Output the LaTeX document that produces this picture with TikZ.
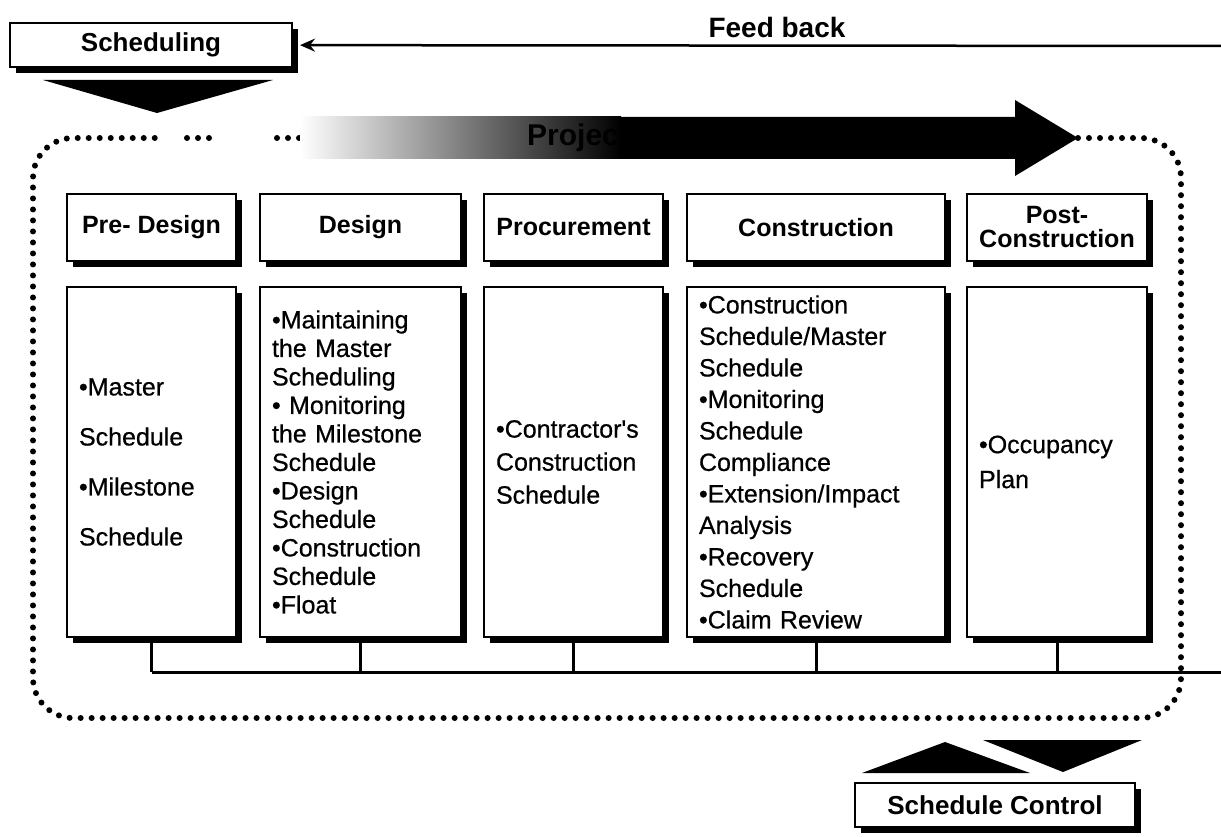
\documentclass[tikz,border=0pt]{standalone}
\usepackage{fontspec}
\setmainfont{Liberation Sans}
\newfontfamily\listfont{Liberation Sans}[FakeBold=0.6]
\usepackage{tikz}
\usetikzlibrary{positioning}
\usetikzlibrary{arrows.meta}
\usetikzlibrary{shadows}

\begin{document}
\begin{tikzpicture}[x=1pt, y=-1pt,
  shadowed/.style = {drop shadow={shadow xshift=6pt, shadow yshift=-6pt,
    fill=black, opacity=1}},
  phase/.style = {shape=rectangle, draw, line width=2pt, fill=white,
    minimum height=67pt, align=center, inner sep=2pt, shadowed,
    font=\bfseries\fontsize{25pt}{24pt}\selectfont},
  duties/.style = {shape=rectangle, draw, line width=2pt, fill=white,
    minimum height=350pt, align=left, inner xsep=12pt, inner ysep=0pt,
    shadowed},
  banner/.style = {shape=rectangle, draw, line width=2pt, fill=white,
    minimum height=44pt, shadowed,
    font=\bfseries\fontsize{26pt}{26pt}\selectfont},
  frame/.style = {line width=6pt, line cap=round,
    dash pattern=on 0pt off 11pt, rounded corners=40pt},
  bus/.style = {line width=3pt},
  feedback/.style = {line width=2.5pt,
    -{Stealth[length=15pt, width=13pt, inset=5pt]}}]
  \useasboundingbox (0,0) rectangle (1221,837);

  \draw[frame] (1078,138) -| (1181,718) -| (33,138) -- (155,138);
  \draw[frame] (187,138) -- (215,138) (277,138) -- (305,138);

  \shade[left color=white, right color=black] (300,117) rectangle (621,159);
  \fill (620,117) -- (1015,117) -- (1015,100) -- (1078,138)
    -- (1015,176) -- (1015,159) -- (620,159) -- cycle;
  \node[font=\bfseries\fontsize{30pt}{30pt}\selectfont] (projlabel)
    at (578,138) {Project};

  \node[banner, minimum width=282pt] (sched) at (151,45) {Scheduling};
  \fill (43,80) -- (273,80) -- (157,113) -- cycle;
  \coordinate (fbstart) at (1221,46);
  \draw[feedback, shorten >=7pt] (fbstart) -- (sched);
  \node[font=\bfseries\fontsize{28pt}{28pt}\selectfont] (fblabel)
    at (777,27) {Feed back};

  \node[phase, minimum width=169pt] (predesign) at (151.5,227.5) {Pre- Design};
  \node[phase, minimum width=201pt] (design) at (360.5,227.5) {Design};
  \node[phase, minimum width=179pt] (procure) at (573.5,227.5) {Procurement};
  \node[phase, minimum width=258pt] (construct) at (816,227.5) {Construction};
  \node[phase, minimum width=180pt] (postcon) at (1057,227.5) {Post-\\Construction};

  \node[duties, below=24pt of predesign, text width=145pt,
    font=\listfont\fontsize{25pt}{50pt}\selectfont] (predesignlist)
    {•Master\\Schedule\\•Milestone\\Schedule};
  \node[duties, below=24pt of design, text width=177pt,
    font=\listfont\fontsize{25pt}{28.5pt}\selectfont] (designlist)
    {•Maintaining\\the Master\\Scheduling\\• Monitoring\\the Milestone\\
     Schedule\\•Design\\Schedule\\•Construction\\Schedule\\•Float};
  \node[duties, below=24pt of procure, text width=155pt,
    font=\listfont\fontsize{25pt}{33pt}\selectfont] (procurelist)
    {•Contractor's\\Construction\\Schedule};
  \node[duties, below=24pt of construct, text width=234pt,
    font=\listfont\fontsize{25pt}{31.5pt}\selectfont] (constructlist)
    {•Construction\\Schedule/Master\\Schedule\\•Monitoring\\Schedule\\
     Compliance\\•Extension/Impact\\Analysis\\•Recovery\\Schedule\\•Claim Review};
  \node[duties, below=24pt of postcon, text width=156pt,
    font=\listfont\fontsize{25pt}{35pt}\selectfont] (postconlist)
    {•Occupancy\\Plan};

  \coordinate (busend) at (1221,672);
  \draw[bus] (predesignlist.south |- busend) -- (busend);
  \draw[bus] (predesignlist.south) -- (predesignlist.south |- busend);
  \draw[bus] (designlist.south) -- (designlist.south |- busend);
  \draw[bus] (procurelist.south) -- (procurelist.south |- busend);
  \draw[bus] (constructlist.south) -- (constructlist.south |- busend);
  \draw[bus] (postconlist.south) -- (postconlist.south |- busend);

  \fill (862,773) -- (1030,773) -- (945,742) -- cycle;
  \fill (983,740) -- (1142,740) -- (1063,772) -- cycle;
  \node[banner, minimum width=280pt] (control) at (995,805) {Schedule Control};
\end{tikzpicture}
\end{document}
